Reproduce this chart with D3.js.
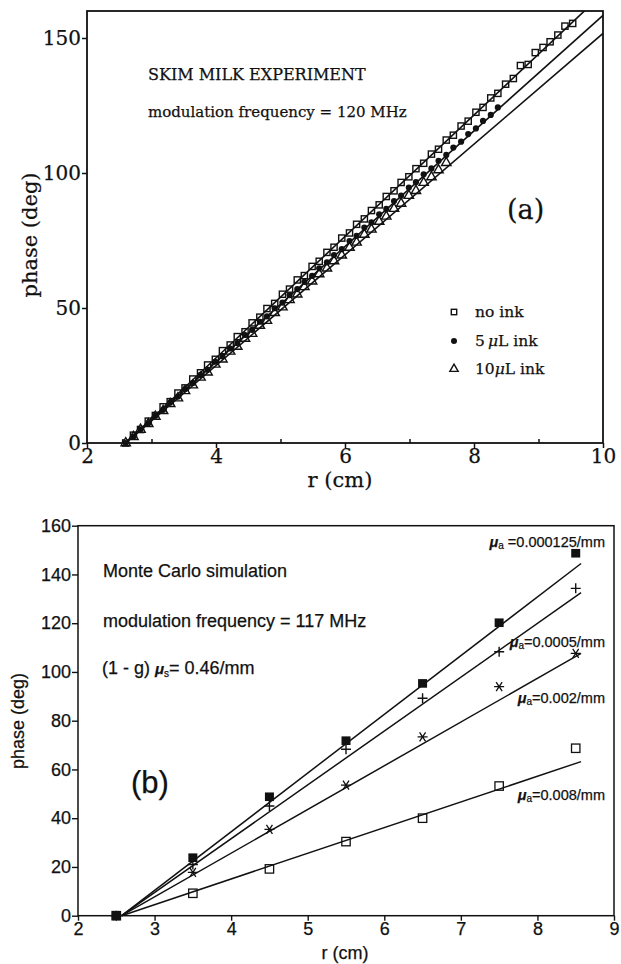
<!DOCTYPE html>
<html>
<head>
<meta charset="utf-8">
<script src="https://cdn.jsdelivr.net/npm/d3@7"></script>
<style>
  body { margin: 0; background: #fff; }
  svg { display: block; }
  text { stroke: #111; stroke-width: 0.25px; }
</style>
</head>
<body>
<script>
// ---- panel (a) data : skim milk experiment ----
var rNoInk = [2.60, 2.72, 2.83, 2.95, 3.06, 3.18, 3.29, 3.41, 3.52, 3.64, 3.76, 3.87, 3.99, 4.10, 4.22, 4.33,
  4.45, 4.56, 4.68, 4.79, 4.91, 5.03, 5.14, 5.26, 5.37, 5.49, 5.60, 5.72, 5.83, 5.95, 6.07, 6.18, 6.30, 6.41,
  6.53, 6.64, 6.76, 6.87, 6.99, 7.10, 7.22, 7.34, 7.45, 7.57, 7.68, 7.80, 7.91, 8.03, 8.14, 8.26, 8.37, 8.49,
  8.61, 8.72, 8.84, 8.95, 9.07, 9.18, 9.30, 9.41, 9.53];
var phNoInk = [0, 2.9, 5.0, 8.1, 10.2, 13.4, 15.3, 18.5, 20.4, 23.7, 26.0, 28.9, 31.0, 34.2, 36.3, 39.4,
  41.2, 44.5, 46.6, 49.8, 51.7, 55.1, 57.0, 60.4, 62.0, 65.4, 67.3, 70.6, 72.5, 75.9, 77.8, 81.0, 83.0, 86.1,
  88.2, 91.3, 93.4, 96.5, 98.6, 101.6, 103.6, 107.0, 108.8, 112.2, 114.0, 117.4, 119.2, 122.5, 124.3, 127.8,
  129.5, 132.9, 135.0, 139.8, 140.2, 144.6, 146.5, 148.6, 151.1, 154.4, 155.4];

var r5ink = [2.60, 2.72, 2.83, 2.95, 3.06, 3.18, 3.29, 3.41, 3.52, 3.64, 3.76, 3.87, 3.99, 4.10, 4.22, 4.33,
  4.45, 4.56, 4.68, 4.79, 4.91, 5.03, 5.14, 5.26, 5.37, 5.49, 5.60, 5.72, 5.83, 5.95, 6.07, 6.18, 6.30, 6.41,
  6.53, 6.64, 6.76, 6.87, 6.99, 7.10, 7.22, 7.34, 7.45, 7.57, 7.68, 7.80, 7.91, 8.03, 8.14, 8.26, 8.37];
var ph5ink = [0, 2.4, 5.1, 7.3, 10.1, 12.3, 15.0, 17.2, 20.0, 22.2, 25.2, 27.1, 30.1, 32.1, 35.0, 37.0,
  40.0, 41.9, 44.9, 46.9, 49.9, 52.0, 54.8, 57.0, 59.7, 61.9, 64.7, 66.9, 69.6, 71.8, 74.8, 76.7, 79.8, 81.7,
  84.7, 86.7, 89.6, 91.6, 94.6, 96.6, 99.5, 101.7, 104.5, 106.7, 109.4, 111.6, 114.4, 116.5, 119.3, 121.5, 124.3];

var r10ink = [2.60, 2.72, 2.83, 2.95, 3.06, 3.18, 3.29, 3.41, 3.52, 3.64, 3.76, 3.87, 3.99, 4.10, 4.22, 4.33,
  4.45, 4.56, 4.68, 4.79, 4.91, 5.03, 5.14, 5.26, 5.37, 5.49, 5.60, 5.72, 5.83, 5.95, 6.07, 6.18, 6.30, 6.41,
  6.53, 6.64, 6.76, 6.87, 6.99, 7.10, 7.22, 7.34, 7.45, 7.57];
var ph10ink = [0, 2.3, 5.0, 7.1, 9.8, 11.9, 14.5, 16.6, 19.3, 21.4, 24.3, 26.2, 29.1, 31.0, 33.9, 35.7,
  38.7, 40.5, 43.5, 45.3, 48.2, 50.3, 53.0, 55.1, 57.8, 59.9, 62.6, 64.7, 67.4, 69.5, 72.4, 74.3, 77.2, 79.1,
  82.0, 83.9, 86.8, 88.7, 91.6, 93.4, 96.4, 98.5, 101.1, 103.8];

// fitted lines (start / end)
var fitTopR = [2.6, 10];
var fitNoInk = [0, 166.5];
var fit5ink = [0, 158.4];
var fit10ink = [0, 151.7];

var topXTicks = [2, 4, 6, 8, 10];
var topXMinor = [3, 5, 7, 9];
var topYTicks = [0, 50, 100, 150];

// ---- panel (b) data : Monte Carlo simulation ----
var rMC = [2.5, 3.5, 4.5, 5.5, 6.5, 7.5, 8.5];
var phMu000125 = [0, 23.8, 48.8, 71.8, 95.3, 120.2, 148.7];
var phMu0005 = [0, 21.0, 45.0, 68.3, 89.2, 108.3, 134.3];
var phMu002 = [0, 17.8, 35.4, 53.6, 73.4, 94.0, 107.6];
var phMu008 = [0, 9.2, 19.2, 30.4, 40.0, 53.2, 68.7];

var fitMCR = [2.57, 8.57];
var fitMu000125 = [0, 144.5];
var fitMu0005 = [0, 132.5];
var fitMu002 = [0, 107.6];
var fitMu008 = [0, 63.2];

var muLabels = [" =0.000125/mm", "=0.0005/mm", "=0.002/mm", "=0.008/mm"];

var botXTicks = [2, 3, 4, 5, 6, 7, 8, 9];
var botYTicks = [0, 20, 40, 60, 80, 100, 120, 140, 160];

var serif = "'DejaVu Serif', serif";
var sans = "'Liberation Sans', Arial, sans-serif";

var svg = d3.select("body").append("svg")
    .attr("width", 621)
    .attr("height", 964);

// =========================== panel (a) ===========================
var xA = d3.scaleLinear().domain([2, 10]).range([87, 603]);
var yA = d3.scaleLinear().domain([0, 160]).range([443, 11]);

svg.append("clipPath").attr("id", "clipA")
  .append("rect")
    .attr("x", xA(2)).attr("y", yA(160))
    .attr("width", xA(10) - xA(2)).attr("height", yA(0) - yA(160));

var gA = svg.append("g");

var zipA = function (rs, ps) { return rs.map(function (r, i) { return [r, ps[i]]; }); };

gA.append("g").selectAll("rect")
  .data(zipA(rNoInk, phNoInk))
  .enter().append("rect")
    .attr("x", function (d) { return xA(d[0]) - 3.1; })
    .attr("y", function (d) { return yA(d[1]) - 3.1; })
    .attr("width", 6.2).attr("height", 6.2)
    .attr("fill", "#fff").attr("stroke", "#111").attr("stroke-width", 1.4);

var tri = d3.symbol().type(d3.symbolTriangle).size(38);
gA.append("g").selectAll("path")
  .data(zipA(r10ink, ph10ink))
  .enter().append("path")
    .attr("d", tri)
    .attr("transform", function (d) { return "translate(" + xA(d[0]) + "," + yA(d[1]) + ")"; })
    .attr("fill", "#fff").attr("stroke", "#111").attr("stroke-width", 1.4);

gA.append("g").selectAll("circle")
  .data(zipA(r5ink, ph5ink))
  .enter().append("circle")
    .attr("cx", function (d) { return xA(d[0]); })
    .attr("cy", function (d) { return yA(d[1]); })
    .attr("r", 3.1)
    .attr("fill", "#111");

var lineA = d3.line().x(function (d) { return xA(d[0]); }).y(function (d) { return yA(d[1]); });
[fitNoInk, fit5ink, fit10ink].forEach(function (f) {
  gA.append("path")
    .attr("d", lineA(zipA(fitTopR, f)))
    .attr("clip-path", "url(#clipA)")
    .attr("fill", "none").attr("stroke", "#111").attr("stroke-width", 1.6);
});

// frame
svg.append("rect")
    .attr("x", xA(2)).attr("y", yA(160))
    .attr("width", xA(10) - xA(2)).attr("height", yA(0) - yA(160))
    .attr("fill", "none").attr("stroke", "#111").attr("stroke-width", 1.8);

// axes
var axA_x = svg.append("g")
    .attr("transform", "translate(0," + yA(0) + ")")
    .call(d3.axisBottom(xA).tickValues(topXTicks).tickSize(5).tickPadding(1).tickFormat(d3.format("d")));
svg.append("g")
    .attr("transform", "translate(0," + yA(0) + ")")
    .call(d3.axisBottom(xA).tickValues(topXMinor).tickSize(-4).tickFormat(""));
var axA_y = svg.append("g")
    .attr("transform", "translate(" + xA(2) + ",0)")
    .call(d3.axisLeft(yA).tickValues(topYTicks).tickSize(5).tickPadding(1).tickFormat(d3.format("d")));

svg.selectAll(".domain").remove();
[axA_x, axA_y].forEach(function (a) {
  a.selectAll("text").attr("font-family", serif).attr("font-size", 20).attr("fill", "#111");
});
svg.selectAll(".tick line").attr("stroke", "#111").attr("stroke-width", 1.5);

// axis titles
svg.append("text")
    .attr("x", 340).attr("y", 487)
    .attr("text-anchor", "middle")
    .attr("font-family", serif).attr("font-size", 21).attr("fill", "#111")
    .text("r (cm)");
svg.append("text")
    .attr("transform", "translate(37,235) rotate(-90)")
    .attr("text-anchor", "middle")
    .attr("font-family", serif).attr("font-size", 21).attr("fill", "#111")
    .text("phase (deg)");

// annotations
svg.append("text").attr("x", 148).attr("y", 80)
    .attr("font-family", serif).attr("font-size", 16).attr("fill", "#111")
    .text("SKIM MILK EXPERIMENT");
svg.append("text").attr("x", 148).attr("y", 117)
    .attr("font-family", serif).attr("font-size", 15).attr("fill", "#111")
    .text("modulation frequency = 120 MHz");
svg.append("text").attr("x", 507).attr("y", 219)
    .attr("font-family", serif).attr("font-size", 27).attr("fill", "#111")
    .text("(a)");

// legend
var legA = svg.append("g").attr("font-family", serif).attr("font-size", 15.5).attr("fill", "#111");
legA.append("rect").attr("x", 451.3).attr("y", 309.3).attr("width", 5.4).attr("height", 5.4)
    .attr("fill", "#fff").attr("stroke", "#111").attr("stroke-width", 1.4);
legA.append("circle").attr("cx", 454).attr("cy", 341).attr("r", 3).attr("fill", "#111");
legA.append("path").attr("d", d3.symbol().type(d3.symbolTriangle).size(30))
    .attr("transform", "translate(454,369)")
    .attr("fill", "#fff").attr("stroke", "#111").attr("stroke-width", 1.4);
legA.append("text").attr("x", 475).attr("y", 317).text("no ink");
var t5 = legA.append("text").attr("x", 475).attr("y", 346);
t5.append("tspan").text("5\u2009");
t5.append("tspan").attr("font-style", "italic").text("\u03bc");
t5.append("tspan").text("L ink");
var t10 = legA.append("text").attr("x", 475).attr("y", 374);
t10.append("tspan").text("10");
t10.append("tspan").attr("font-style", "italic").text("\u03bc");
t10.append("tspan").text("L ink");

// =========================== panel (b) ===========================
var xB = d3.scaleLinear().domain([2, 9]).range([78, 614]);
var yB = d3.scaleLinear().domain([0, 160]).range([915.7, 525.7]);

var lineB = d3.line().x(function (d) { return xB(d[0]); }).y(function (d) { return yB(d[1]); });
[fitMu000125, fitMu0005, fitMu002, fitMu008].forEach(function (f) {
  svg.append("path")
    .attr("d", lineB(zipA(fitMCR, f)))
    .attr("fill", "none").attr("stroke", "#111").attr("stroke-width", 1.5);
});

var gB = svg.append("g");
// open squares, mu_a = 0.008
gB.append("g").selectAll("rect")
  .data(zipA(rMC, phMu008))
  .enter().append("rect")
    .attr("x", function (d) { return xB(d[0]) - 4.2; })
    .attr("y", function (d) { return yB(d[1]) - 4.2; })
    .attr("width", 8.4).attr("height", 8.4)
    .attr("fill", "none").attr("stroke", "#111").attr("stroke-width", 1.3);
// asterisks, mu_a = 0.002
gB.append("g").selectAll("path")
  .data(zipA(rMC, phMu002))
  .enter().append("path")
    .attr("d", "M-5,0H5M-3,-4.5L3,4.5M-3,4.5L3,-4.5")
    .attr("transform", function (d) { return "translate(" + xB(d[0]) + "," + yB(d[1]) + ")"; })
    .attr("fill", "none").attr("stroke", "#111").attr("stroke-width", 1.3);
// plus, mu_a = 0.0005
gB.append("g").selectAll("path")
  .data(zipA(rMC, phMu0005))
  .enter().append("path")
    .attr("d", "M-5,0H5M0,-5V5")
    .attr("transform", function (d) { return "translate(" + xB(d[0]) + "," + yB(d[1]) + ")"; })
    .attr("fill", "none").attr("stroke", "#111").attr("stroke-width", 1.4);
// filled squares, mu_a = 0.000125
gB.append("g").selectAll("rect")
  .data(zipA(rMC, phMu000125))
  .enter().append("rect")
    .attr("x", function (d) { return xB(d[0]) - 4.5; })
    .attr("y", function (d) { return yB(d[1]) - 4.3; })
    .attr("width", 9).attr("height", 8.6)
    .attr("fill", "#111");

// frame
svg.append("rect")
    .attr("x", xB(2)).attr("y", yB(160))
    .attr("width", xB(9) - xB(2)).attr("height", yB(0) - yB(160))
    .attr("fill", "none").attr("stroke", "#111").attr("stroke-width", 1.5);

var axB_x = svg.append("g")
    .attr("transform", "translate(0," + yB(0) + ")")
    .call(d3.axisBottom(xB).tickValues(botXTicks).tickSize(5).tickPadding(2).tickFormat(d3.format("d")));
var axB_y = svg.append("g")
    .attr("transform", "translate(" + xB(2) + ",0)")
    .call(d3.axisLeft(yB).tickValues(botYTicks).tickSize(6).tickPadding(1).tickFormat(d3.format("d")));
[axB_x, axB_y].forEach(function (a) {
  a.select(".domain").remove();
  a.selectAll("text").attr("font-family", sans).attr("font-size", 18).attr("fill", "#111");
  a.selectAll(".tick line").attr("stroke", "#111").attr("stroke-width", 1.4);
});

svg.append("text")
    .attr("x", 345).attr("y", 959)
    .attr("text-anchor", "middle")
    .attr("font-family", sans).attr("font-size", 18).attr("fill", "#111")
    .text("r (cm)");
svg.append("text")
    .attr("transform", "translate(24,721) rotate(-90)")
    .attr("text-anchor", "middle")
    .attr("font-family", sans).attr("font-size", 18).attr("fill", "#111")
    .text("phase (deg)");

var annB = svg.append("g").attr("font-family", sans).attr("fill", "#111");
annB.append("text").attr("x", 103).attr("y", 577).attr("font-size", 18).text("Monte Carlo simulation");
annB.append("text").attr("x", 103).attr("y", 627).attr("font-size", 18).text("modulation frequency = 117 MHz");
var tg = annB.append("text").attr("x", 102).attr("y", 674).attr("font-size", 18);
tg.append("tspan").text("(1 - g) ");
tg.append("tspan").attr("font-style", "italic").attr("font-weight", "bold").attr("font-size", 15).text("\u03bc");
tg.append("tspan").attr("font-size", 10).attr("dy", 3).text("s");
tg.append("tspan").attr("dy", -3).text("= 0.46/mm");
annB.append("text").attr("x", 131).attr("y", 793).attr("font-size", 31).text("(b)");

// mu_a labels
var muY = [547, 647, 703, 800];
muLabels.forEach(function (lab, i) {
  var t = annB.append("text").attr("x", 605).attr("y", muY[i])
      .attr("text-anchor", "end").attr("font-size", 14.5);
  t.append("tspan").attr("font-style", "italic").attr("font-weight", "bold").text("\u03bc");
  t.append("tspan").attr("font-size", 10).attr("dy", 2).text("a");
  t.append("tspan").attr("dy", -2).text(lab);
});
</script>
</body>
</html>
